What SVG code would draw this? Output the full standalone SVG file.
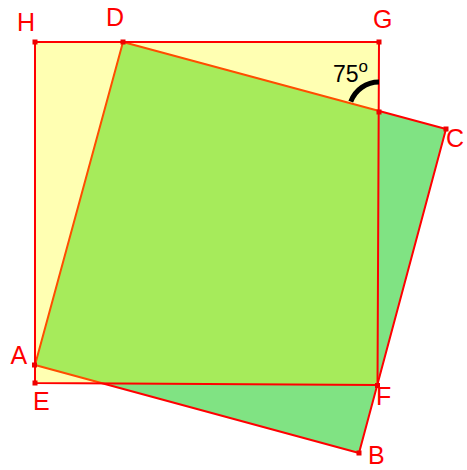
<svg xmlns="http://www.w3.org/2000/svg" width="467" height="470" viewBox="0 0 467 470">
<style>
.lbl{font-family:"Liberation Sans",Arial,sans-serif;font-size:25px;fill:#ff0000}
.pt{fill:#ee0000}
.edge{fill:none;stroke:#ff0000;stroke-width:2;stroke-linejoin:round}
</style>
<rect width="467" height="470" fill="#ffffff"/>
<g id="square-ABCD">
<polygon points="35,365 359,453 446,129 123,42" fill="#80e383"/>
<polygon class="edge" points="35,365 359,453 446,129 123,42" stroke-width="2.5"/>
</g>
<g id="square-HGFE">
<polygon points="35,42 379,42 377.5,385 35,383" fill="#ffff00" fill-opacity="0.3"/>
<polygon class="edge" points="35,42 379,42 377.5,385 35,383"/>
</g>
<g id="angle">
<path d="M379,82 A30,30 0 0 0 350.8,101.7" fill="none" stroke="#000000" stroke-width="5"/>
<text x="333" y="82" font-family="'Liberation Sans',Arial,sans-serif" font-size="23" fill="#000000">75<tspan dy="-10" font-size="17">o</tspan></text>
</g>
<g id="points">
<rect class="pt" x="32.5" y="39.5" width="5" height="5"/>
<rect class="pt" x="120.5" y="39.5" width="5" height="5"/>
<rect class="pt" x="376.5" y="39.5" width="5" height="5"/>
<rect class="pt" x="376.5" y="109.5" width="5" height="5"/>
<rect class="pt" x="443.5" y="126.5" width="5" height="5"/>
<rect class="pt" x="32" y="362.5" width="5" height="5"/>
<rect class="pt" x="32.5" y="380.5" width="5" height="5"/>
<rect class="pt" x="375" y="383" width="5" height="5"/>
<rect class="pt" x="356.5" y="450.5" width="5" height="5"/>
</g>
<g id="labels">
<text class="lbl" x="17" y="31">H</text>
<text class="lbl" x="106" y="26">D</text>
<text class="lbl" x="373" y="28">G</text>
<text class="lbl" x="446" y="146.5">C</text>
<text class="lbl" x="10.5" y="364">A</text>
<text class="lbl" x="33" y="410">E</text>
<text class="lbl" x="376" y="404.5">F</text>
<text class="lbl" x="368" y="464">B</text>
</g>
</svg>
